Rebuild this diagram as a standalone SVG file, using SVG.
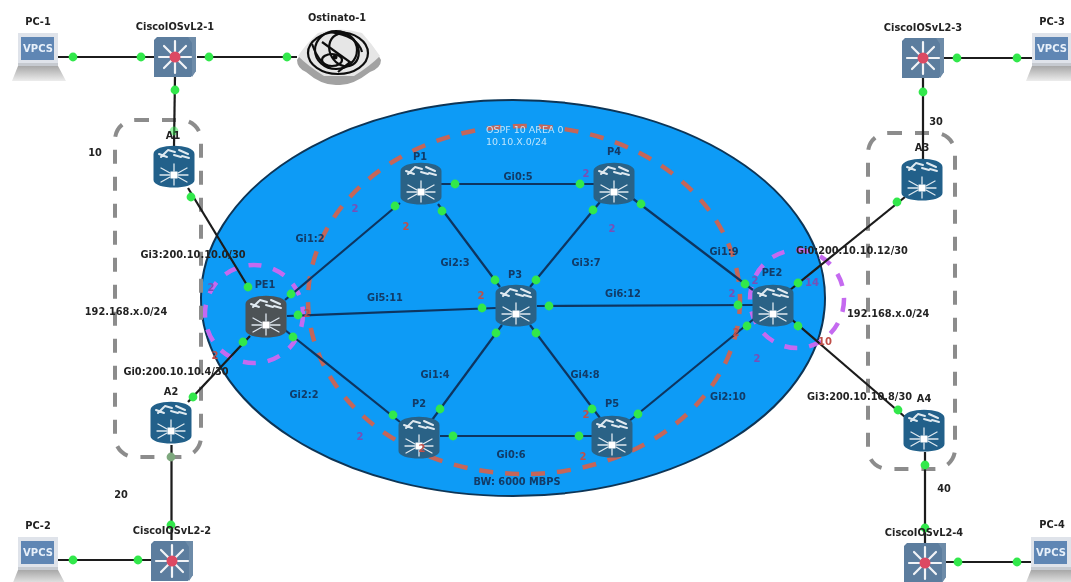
<svg xmlns="http://www.w3.org/2000/svg" width="1071" height="582" viewBox="0 0 1071 582">
<style>
text{font-family:"DejaVu Sans","Liberation Sans",sans-serif;font-weight:bold;font-size:9.800px;text-anchor:middle;fill:#242424}
.n{fill:#123a66}
.l{text-anchor:start}
.w{fill:#bfe4fb;font-weight:normal;text-anchor:start;font-size:9.500px}
.t{fill:#7a4fb5;font-size:10px}
.r{fill:#c0504a;font-size:10px}
.v{fill:#e8f0fa;font-size:10px}
.c line{stroke:#0f3560;stroke-width:2.200}
.c .k{stroke:#1a1a1a}
.d circle{fill:#31e84b;r:4.400px}
.gr{fill:none;stroke:#8c8c8c;stroke-width:4;stroke-dasharray:14 13}
.rd{fill:none;stroke:#c4665a;stroke-width:4.500;stroke-dasharray:14 12}
.mg{fill:none;stroke:#c56bf0;stroke-width:4.500;stroke-dasharray:13 12}
</style>
<defs>
<filter id="soft" x="-5%" y="-5%" width="110%" height="110%"><feGaussianBlur stdDeviation="0.5"/></filter>
<linearGradient id="base" x1="0" y1="0" x2="0" y2="1"><stop offset="0" stop-color="#a8a8a8"/><stop offset="1" stop-color="#ececec"/></linearGradient>
<symbol id="router" viewBox="-21 -21 42 42" width="42" height="42" overflow="visible">
<path d="M-20.500-13C-20.500-24 20.500-24 20.500-13V13C20.500 23-20.500 23-20.500 13Z" fill="currentColor"/>
<g stroke="#dfe9f0" stroke-width="2" stroke-linecap="round">
<path d="M-15-13L-7-10M-6-17L1-15M5-17L14-13M-7-16L-13-10M7-10L0-12M15-9L8-11" fill="none"/>
<path d="M-4 6L-13 1M-4 8L-14 8M-4 10L-13 15M4 6L13 1M4 8L14 8M4 10L13 15M0 4V-3M0 12V18" fill="none" stroke-width="1.300"/>
</g>
<rect x="-3.500" y="4.500" width="7" height="7" fill="#fff"/>
</symbol>
<symbol id="switch" viewBox="-22 -20 44 40" width="44" height="40" overflow="visible">
<path d="M-21-17L-18-20H21V14L16 20H-21Z" fill="#5c7d9e"/>
<path d="M21-20V14L17 20V-14L13-20Z" fill="#6d8ba8"/>
<g stroke="#f2f4f7" stroke-width="2.200" stroke-linecap="round"><path d="M-16 0H16M0-16V16M-11-11L11 11M-11 11L11-11"/></g>
<circle r="5.500" fill="#dc4a63"/>
</symbol>
<symbol id="laptop" viewBox="0 0 54 50" width="54" height="50" overflow="visible">
<rect x="6" y="0" width="40" height="33" fill="#dfe3ea"/>
<rect x="9" y="4" width="33" height="23" fill="#5e86b4"/>
<path d="M6 33H46L54 48H0Z" fill="url(#base)"/>
<rect x="6" y="30" width="40" height="3" fill="#c6cad0"/>
</symbol>
</defs>
<rect width="1071" height="582" fill="#fff"/>
<g filter="url(#soft)">
<g id="areas">
<ellipse id="ospf-area" cx="513" cy="298" rx="312" ry="198" fill="#0a9bf6" stroke="#0b3556" stroke-width="2"/>
<ellipse cx="524" cy="300" rx="216" ry="174" class="rd"/>
<ellipse cx="254" cy="314" rx="49" ry="49" class="mg"/>
<ellipse cx="797" cy="299" rx="47" ry="49" class="mg"/>
<rect x="115" y="120" width="86" height="337" rx="20" class="gr"/>
<rect x="868" y="133" width="87" height="336" rx="20" class="gr"/>
</g>
<g id="connectors" class="c">
<line class="k" x1="58" y1="57" x2="154" y2="57"/>
<line class="k" x1="197" y1="57" x2="297" y2="57"/>
<line class="k" x1="175" y1="76" x2="174" y2="146"/>
<line class="k" x1="188" y1="188" x2="250" y2="290"/>
<line class="k" x1="188" y1="402" x2="250" y2="336"/>
<line x1="285" y1="300" x2="400" y2="203"/>
<line x1="287" y1="316" x2="496" y2="308"/>
<line x1="285" y1="330" x2="400" y2="422"/>
<line x1="440" y1="184" x2="594" y2="184"/>
<line x1="438" y1="204" x2="500" y2="287"/>
<line x1="600" y1="202" x2="530" y2="287"/>
<line x1="632" y1="198" x2="753" y2="290"/>
<line x1="537" y1="306" x2="753" y2="305"/>
<line x1="502" y1="325" x2="432" y2="420"/>
<line x1="530" y1="325" x2="600" y2="418"/>
<line x1="440" y1="436" x2="592" y2="436"/>
<line x1="628" y1="422" x2="755" y2="318"/>
<line class="k" x1="790" y1="290" x2="905" y2="197"/>
<line class="k" x1="790" y1="318" x2="905" y2="417"/>
<line class="k" x1="923" y1="78" x2="923" y2="159"/>
<line class="k" x1="944" y1="58" x2="1032" y2="58"/>
<line class="k" x1="925" y1="452" x2="925" y2="543"/>
<line class="k" x1="946" y1="562" x2="1032" y2="562"/>
<line class="k" x1="171.500" y1="445" x2="171.500" y2="540"/>
<line class="k" x1="58" y1="560" x2="151" y2="560"/>
</g>
<g id="PC-1"><use href="#laptop" x="12" y="33"/></g>
<g id="PC-2"><use href="#laptop" x="12" y="537"/></g>
<g id="PC-3"><use href="#laptop" x="1026" y="33"/></g>
<g id="PC-4"><use href="#laptop" x="1025" y="537"/></g>
<g id="CiscoIOSvL2-1"><use href="#switch" x="153" y="37"/></g>
<g id="CiscoIOSvL2-2"><use href="#switch" x="150" y="541"/></g>
<g id="CiscoIOSvL2-3"><use href="#switch" x="901" y="38"/></g>
<g id="CiscoIOSvL2-4"><use href="#switch" x="903" y="543"/></g>
<g id="Ostinato-1">
<path d="M297 60Q305 46 318 36Q340 28 362 36Q374 46 381 60Q381 68 370 72Q352 86 338 85Q322 86 306 72Q297 68 297 60Z" fill="#a2a2a2"/>
<path d="M298 56Q306 44 318 33Q340 26 362 33Q372 44 380 56Q370 66 354 76H324Q308 66 298 56Z" fill="#e6e6e6"/>
<g fill="none" stroke="#111" stroke-width="2.200">
<ellipse cx="338" cy="53" rx="30" ry="21"/>
<ellipse cx="336" cy="50" rx="21" ry="19"/>
<ellipse cx="344" cy="50" rx="14" ry="17" transform="rotate(-30 344 50)"/>
<ellipse cx="332" cy="60" rx="10" ry="6"/>
<path d="M322 42L350 62L338 72M330 32Q358 36 362 52M312 44Q318 62 330 68"/>
</g>
<circle cx="335" cy="57" r="2.500" fill="#111"/>
</g>
<g id="A1" color="#20608a"><use href="#router" x="153" y="146"/></g>
<g id="A2" color="#20608a"><use href="#router" x="150" y="402"/></g>
<g id="A3" color="#20608a"><use href="#router" x="901" y="159"/></g>
<g id="A4" color="#20608a"><use href="#router" x="903" y="410"/></g>
<g id="PE1" color="#4d5257"><use href="#router" x="245" y="296"/></g>
<g id="PE2" color="#2a6286"><use href="#router" x="752" y="285"/></g>
<g id="P1" color="#2a6286"><use href="#router" x="400" y="163"/></g>
<g id="P2" color="#2a6286"><use href="#router" x="398" y="417"/></g>
<g id="P3" color="#2a6286"><use href="#router" x="495" y="285"/></g>
<g id="P4" color="#2a6286"><use href="#router" x="593" y="163"/></g>
<g id="P5" color="#2a6286"><use href="#router" x="591" y="416"/></g>
<g id="ports" class="d">
<circle cx="73" cy="57"/><circle cx="141" cy="57"/><circle cx="209" cy="57"/><circle cx="287" cy="57"/>
<circle cx="175" cy="90"/><circle cx="174" cy="131" opacity=".5"/>
<circle cx="191" cy="197"/><circle cx="248" cy="287"/><circle cx="193" cy="397"/><circle cx="243" cy="342"/>
<circle cx="291" cy="294"/><circle cx="395" cy="206"/><circle cx="298" cy="315"/><circle cx="482" cy="308"/>
<circle cx="293" cy="337"/><circle cx="393" cy="415"/><circle cx="455" cy="184"/><circle cx="580" cy="184"/>
<circle cx="442" cy="211"/><circle cx="495" cy="280"/><circle cx="593" cy="210"/><circle cx="536" cy="280"/>
<circle cx="641" cy="204"/><circle cx="745" cy="284"/><circle cx="549" cy="306"/><circle cx="738" cy="305"/>
<circle cx="496" cy="333"/><circle cx="440" cy="409"/><circle cx="536" cy="333"/><circle cx="592" cy="409"/>
<circle cx="453" cy="436"/><circle cx="579" cy="436"/><circle cx="638" cy="414"/><circle cx="747" cy="326"/>
<circle cx="798" cy="283"/><circle cx="897" cy="202"/><circle cx="798" cy="326"/><circle cx="898" cy="410"/>
<circle cx="923" cy="92"/><circle cx="957" cy="58"/><circle cx="1017" cy="58"/>
<circle cx="925" cy="465"/><circle cx="925" cy="528"/><circle cx="958" cy="562"/><circle cx="1017" cy="562"/>
<circle cx="171" cy="457" style="fill:#7ea87e"/><circle cx="171" cy="525"/><circle cx="73" cy="560"/><circle cx="138" cy="560"/>
</g>
<g id="labels">
<text class="v" x="38" y="52">VPCS</text><text class="v" x="38" y="556">VPCS</text><text class="v" x="1052" y="52">VPCS</text><text class="v" x="1051" y="556">VPCS</text>
<text x="38" y="25">PC-1</text>
<text x="175" y="30">CiscoIOSvL2-1</text><text x="337" y="21">Ostinato-1</text>
<text x="173" y="139">A1</text><text x="95" y="156">10</text>
<text x="193" y="258">Gi3:200.10.10.0/30</text><text x="126" y="315">192.168.x.0/24</text>
<text x="176" y="375">Gi0:200.10.10.4/30</text><text x="171" y="395">A2</text>
<text x="121" y="498">20</text><text x="38" y="529">PC-2</text><text x="172" y="534">CiscoIOSvL2-2</text>
<text x="923" y="31">CiscoIOSvL2-3</text><text x="1052" y="25">PC-3</text><text x="936" y="125">30</text><text x="922" y="151">A3</text>
<text class="l" x="796" y="254">Gi0:200.10.10.12/30</text><text class="l" x="847" y="317">192.168.x.0/24</text>
<text class="l" x="807" y="400">Gi3:200.10.10.8/30</text><text x="924" y="402">A4</text>
<text x="944" y="492">40</text><text x="924" y="536">CiscoIOSvL2-4</text><text x="1052" y="528">PC-4</text>
<text class="n" x="265" y="288">PE1</text><text class="n" x="772" y="276">PE2</text>
<text class="n" x="420" y="160">P1</text><text class="n" x="614" y="155">P4</text><text class="n" x="515" y="278">P3</text><text class="n" x="419" y="407">P2</text><text class="n" x="612" y="407">P5</text>
<text class="n" x="310" y="242">Gi1:2</text><text class="n" x="385" y="301">Gi5:11</text><text class="n" x="304" y="398">Gi2:2</text>
<text class="n" x="518" y="180">Gi0:5</text><text class="n" x="455" y="266">Gi2:3</text><text class="n" x="586" y="266">Gi3:7</text><text class="n" x="623" y="297">Gi6:12</text>
<text class="n" x="435" y="378">Gi1:4</text><text class="n" x="585" y="378">Gi4:8</text><text class="n" x="511" y="458">Gi0:6</text>
<text class="n" x="517" y="485">BW: 6000 MBPS</text>
<text class="n" x="724" y="255">Gi1:9</text><text class="n" x="728" y="400">Gi2:10</text>
<text class="w" x="486" y="133">OSPF 10 AREA 0</text><text class="w" x="486" y="145">10.10.X.0/24</text>
<text class="t" x="355" y="212">2</text><text class="r" x="406" y="230">2</text><text class="t" x="586" y="177">2</text><text class="t" x="612" y="232">2</text>
<text class="r" x="481" y="299">2</text><text class="r" x="586" y="418">2</text><text class="r" x="583" y="460">2</text><text class="t" x="360" y="440">2</text>
<text class="r" x="422" y="452">2</text><text class="t" x="211" y="291">2</text><text class="r" x="215" y="359">2</text><text class="r" x="307" y="317">2</text>
<text class="t" x="732" y="297">2</text><text class="t" x="755" y="284">2</text><text class="r" x="736" y="336">2</text><text class="t" x="757" y="362">2</text>
<text class="t" x="812" y="286">14</text><text class="r" x="825" y="345">10</text>
</g>
</g>
</svg>
